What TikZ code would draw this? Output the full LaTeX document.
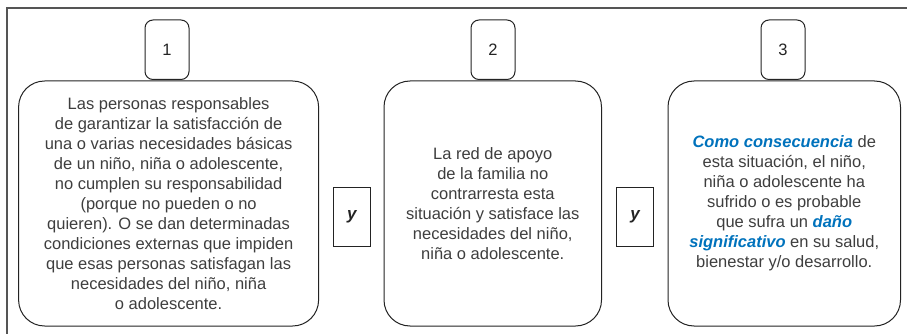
\documentclass[tikz,border=0pt]{standalone}
\usepackage{fontspec}
\setmainfont{Liberation Sans}
\definecolor{txt}{RGB}{62,62,62}
\definecolor{blu}{RGB}{0,114,188}
\definecolor{lin}{RGB}{35,35,35}
\definecolor{frm}{RGB}{85,85,85}
\newcommand{\hl}[1]{{\color{blu}\bfseries\itshape #1}}
\begin{document}
\begin{tikzpicture}[x=1pt,y=-1pt,
  every node/.style={inner sep=0pt, outer sep=0pt},
  mainbox/.style={draw=lin, line width=1pt, rounded corners=26pt, align=center,
    text=txt, font=\fontsize{16.5}{20}\selectfont},
  numbox/.style={draw=lin, line width=1pt, rounded corners=8pt, minimum width=44pt,
    minimum height=59.5pt, text=lin, font=\fontsize{16.5}{20}\selectfont},
  ybox/.style={draw=lin, line width=1pt, minimum height=59.5pt,
    text=lin, font=\fontsize{17}{20}\selectfont\bfseries\itshape},
  frame/.style={draw=frm, line width=2pt}]
\useasboundingbox (0,0) rectangle (907,334);
\coordinate (ftr) at (907,8.5);
\coordinate (ftl) at (6.5,8.5);
\coordinate (fbl) at (6.5,334);
\draw[frame] (ftr) -- (ftl) -- (fbl);

\node[mainbox, minimum width=300pt, minimum height=245pt] (b1) at (168.6,203.5)
 {Las personas responsables\\ de garantizar la satisfacción de\\ una o varias necesidades básicas\\
  de un niño, niña o adolescente,\\ no cumplen su responsabilidad\\ (porque no pueden o no\\
  quieren). O se dan determinadas\\ condiciones externas que impiden\\ que esas personas satisfagan las\\
  necesidades del niño, niña\\ o adolescente.};
\node[mainbox, minimum width=217.5pt, minimum height=245pt] (b2) at (492.75,203.5)
 {La red de apoyo\\ de la familia no\\ contrarresta esta\\ situación y satisface las\\
  necesidades del niño,\\ niña o adolescente.};
\node[mainbox, minimum width=232.5pt, minimum height=245pt] (b3) at (784.25,203.5)
 {\hl{Como consecuencia} de\\ esta situación, el niño,\\ niña o adolescente ha\\
  sufrido o es probable\\ que sufra un \hl{daño}\\ \hl{significativo} en su salud,\\
  bienestar y/o desarrollo.};

\node[numbox] (n1) at (167,49.75) {1};
\node[numbox] (n2) at (493,49.75) {2};
\node[numbox] (n3) at (783,49.75) {3};

\node[ybox, minimum width=36.5pt] (y1) at (351.75,216.75) {y};
\node[ybox, minimum width=37pt] (y2) at (635,216.75) {y};
\end{tikzpicture}
\end{document}
